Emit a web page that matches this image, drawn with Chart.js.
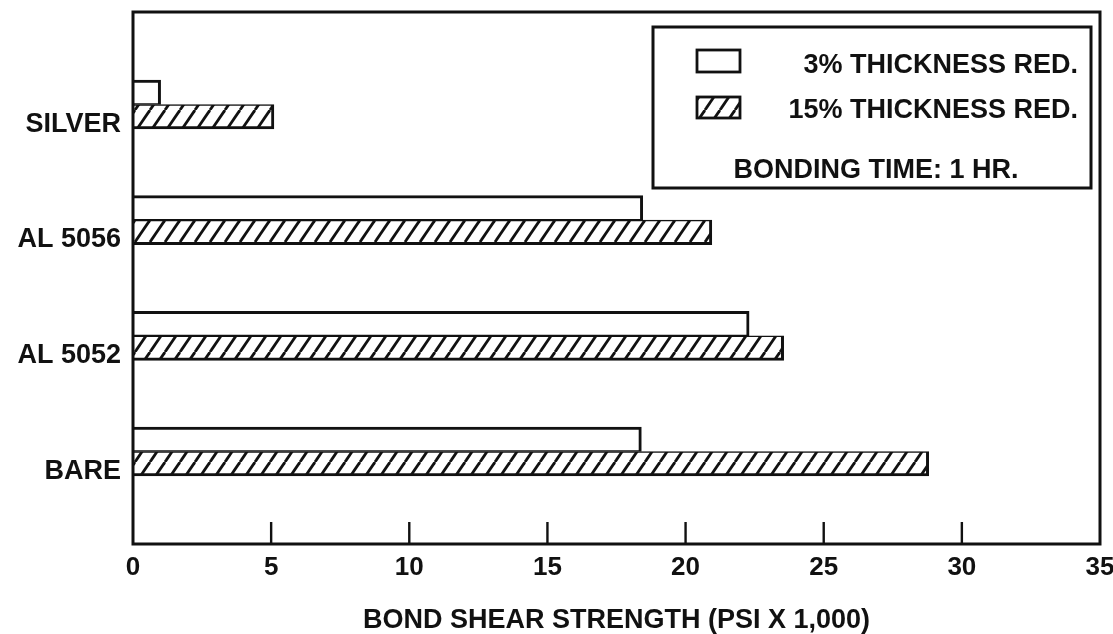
<!DOCTYPE html>
<html><head><meta charset="utf-8">
<script src="https://cdn.jsdelivr.net/npm/chart.js@4"></script>
<style>html,body{margin:0;padding:0;background:#fff}#wrap{width:1113px;height:634px}</style>
</head><body><div id="wrap"><canvas id="c" width="1113" height="634"></canvas></div>
<script>
const categories = ['SILVER', 'AL 5056', 'AL 5052', 'BARE'];
const seriesNames = ['3% THICKNESS RED.', '15% THICKNESS RED.'];
const thickness3 = [1.0, 18.45, 22.3, 18.4];
const thickness15 = [5.1, 20.95, 23.55, 28.8];
const xTickValues = [0, 5, 10, 15, 20, 25, 30, 35];
const legendNote = 'BONDING TIME: 1 HR.';
const xTitle = 'BOND SHEAR STRENGTH (PSI X 1,000)';

const FONT = "'Liberation Sans', Arial, Helvetica, sans-serif";
const INK = '#111';

function makeHatch() {
  const w = 15, h = 22;
  const c = document.createElement('canvas');
  c.width = w; c.height = h;
  const g = c.getContext('2d');
  g.fillStyle = '#fff'; g.fillRect(0, 0, w, h);
  g.strokeStyle = INK; g.lineWidth = 2.8; g.lineCap = 'butt';
  for (const dx of [-w, 0, w]) {
    g.beginPath(); g.moveTo(dx, h); g.lineTo(dx + w, 0); g.stroke();
  }
  return g.createPattern(c, 'repeat');
}
const hatch = makeHatch();

const framePlugin = {
  id: 'frame',
  afterDraw(chart) {
    const { ctx, chartArea: a, scales: { x } } = chart;
    ctx.save();
    ctx.strokeStyle = INK;
    ctx.lineWidth = 3;
    ctx.strokeRect(a.left, a.top, a.right - a.left, a.bottom - a.top);
    ctx.lineWidth = 2.4;
    x.ticks.forEach(t => {
      if (t.value <= x.min || t.value >= x.max) return;
      const px = x.getPixelForValue(t.value);
      ctx.beginPath(); ctx.moveTo(px, a.bottom); ctx.lineTo(px, a.bottom - 22); ctx.stroke();
    });
    // legend box
    ctx.fillStyle = '#fff';
    ctx.fillRect(653, 27, 438, 161);
    ctx.lineWidth = 3;
    ctx.strokeRect(653, 27, 438, 161);
    ctx.lineWidth = 2.8;
    ctx.fillStyle = '#fff';
    ctx.fillRect(697, 50, 43, 22);
    ctx.strokeRect(697, 50, 43, 22);
    ctx.fillStyle = hatch;
    ctx.fillRect(697, 97, 43, 21);
    ctx.strokeRect(697, 97, 43, 21);
    ctx.fillStyle = INK;
    ctx.font = 'bold 27px ' + FONT;
    ctx.textBaseline = 'alphabetic';
    ctx.textAlign = 'right';
    ctx.fillText(seriesNames[0], 1078, 73);
    ctx.fillText(seriesNames[1], 1078, 118);
    ctx.textAlign = 'center';
    ctx.fillText(legendNote, 876, 178);
    ctx.restore();
  }
};

Chart.defaults.font.family = FONT;
Chart.defaults.color = INK;

new Chart(document.getElementById('c'), {
  type: 'bar',
  data: {
    datasets: [
      {
        label: seriesNames[0],
        data: thickness3.map((v, i) => ({ x: v, y: i })),
        backgroundColor: '#fff',
        borderColor: INK,
        borderWidth: { top: 3, right: 3, bottom: 1.5, left: 0 },
        borderSkipped: false,
        barThickness: 24.5
      },
      {
        label: seriesNames[1],
        data: thickness15.map((v, i) => ({ x: v, y: i })),
        backgroundColor: hatch,
        borderColor: INK,
        borderWidth: { top: 1.5, right: 3, bottom: 3, left: 0 },
        borderSkipped: false,
        barThickness: 24.5
      }
    ]
  },
  options: {
    indexAxis: 'y',
    responsive: false,
    animation: false,
    layout: { padding: { top: 12, right: 13, left: 0, bottom: 0 } },
    plugins: { legend: { display: false }, tooltip: { enabled: false } },
    scales: {
      x: {
        type: 'linear', position: 'bottom', min: 0, max: 35, offset: false,
        afterBuildTicks: s => { s.ticks = xTickValues.map(v => ({ value: v })); },
        afterFit: s => { s.height = 90; s.paddingLeft = 0; s.paddingRight = 0; },
        grid: { display: false, drawTicks: false },
        border: { display: false },
        ticks: { padding: 8, color: INK, font: { family: FONT, size: 26, weight: 'bold' } },
        title: {
          display: true, text: xTitle, color: INK,
          font: { family: FONT, size: 27, weight: 'bold', lineHeight: 1 },
          padding: { top: 20, bottom: 0 }
        }
      },
      y: {
        type: 'linear', reverse: true, min: -0.8, max: 3.8, offset: false,
        afterBuildTicks: s => { s.ticks = categories.map((c, i) => ({ value: i + 0.17 })); },
        afterFit: s => { s.width = 133; s.paddingTop = 0; s.paddingBottom = 0; },
        grid: { display: false, drawTicks: false, offset: false },
        border: { display: false },
        ticks: {
          padding: 12, color: INK,
          font: { family: FONT, size: 27, weight: 'bold' },
          callback: (v, i) => categories[i]
        }
      }
    }
  },
  plugins: [framePlugin]
});
</script>
</body></html>
